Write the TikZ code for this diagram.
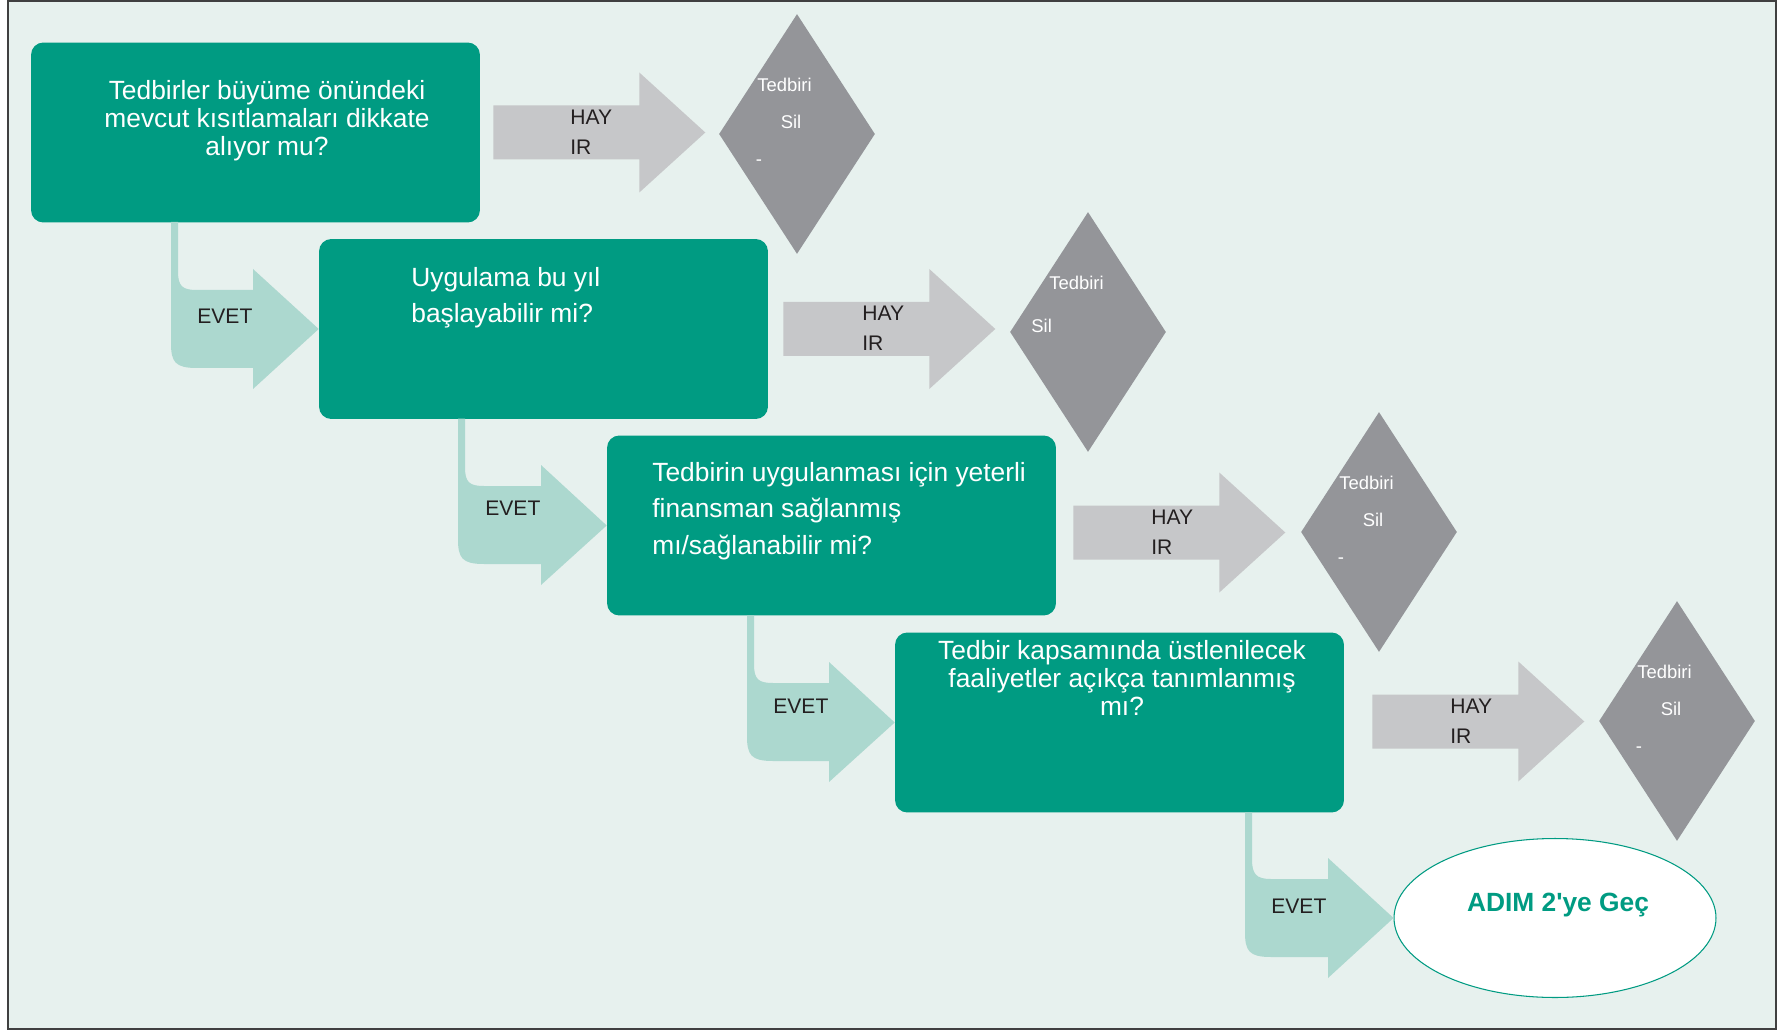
\documentclass[tikz,border=0pt]{standalone}
\usepackage{fontspec}
\setmainfont{Liberation Sans}[Ligatures=TeXOff]
\usetikzlibrary{shapes.geometric}
\definecolor{boxteal}{HTML}{009B82}
\definecolor{evetgreen}{HTML}{ACD8CF}
\definecolor{hayirgray}{HTML}{C6C7C9}
\definecolor{silgray}{HTML}{949599}
\definecolor{bgmint}{HTML}{E7F1EE}
\definecolor{darktext}{HTML}{231F20}

\begin{document}
\begin{tikzpicture}[x=0.02cm, y=-0.02cm,
  question/.style={fill=boxteal, rounded corners=7pt, minimum width=8.98cm, minimum height=3.6cm, inner sep=0pt},
  qtext/.style={text=white, inner sep=0pt},
  yesarrow/.style={fill=evetgreen},
  noarrow/.style={fill=hayirgray},
  answer/.style={text=darktext, font=\fontsize{12}{17}\selectfont, inner sep=0pt, anchor=west, align=left},
  drop/.style={diamond, fill=silgray, minimum width=3.12cm, minimum height=4.8cm, inner sep=0pt},
  droptext/.style={text=white, font=\fontsize{10.5}{12}\selectfont, inner sep=0pt}]
\useasboundingbox (0,0) rectangle (1781,1030);
\draw[fill=bgmint, draw=black!75, line width=1.1pt] (8,1) rectangle (1776,1029);

\node[question] (b1) at (255.5,132.5) {};
\node[question] (b2) at (543.5,329) {};
\node[question] (b3) at (831.5,525.5) {};
\node[question] (b4) at (1119.5,722.5) {};
\node[ellipse, draw=boxteal, fill=white, line width=0.6pt, minimum width=6.44cm, minimum height=3.18cm, inner sep=0pt] (goal) at (1555,918) {};

\node[qtext, align=center, font=\fontsize{15}{16}\selectfont] (q1) at (267,121) {Tedbirler büyüme önündeki\\mevcut kısıtlamaları dikkate\\alıyor mu?};
\node[qtext, align=left, anchor=west, font=\fontsize{15}{20.5}\selectfont] (q2) at (411,297.5) {Uygulama bu yıl\\başlayabilir mi?};
\node[qtext, align=left, anchor=west, font=\fontsize{15}{20.8}\selectfont] (q3) at (652,511) {Tedbirin uygulanması için yeterli\\finansman sağlanmış\\mı/sağlanabilir mi?};
\node[qtext, align=center, font=\fontsize{15}{16}\selectfont] (q4) at (1122,678) {Tedbir kapsamında üstlenilecek\\faaliyetler açıkça tanımlanmış\\mı?};
\node[text=boxteal, font=\fontsize{15}{18}\selectfont\bfseries, inner sep=0pt] (goaltext) at (1558,905) {ADIM 2'ye Geç};

\fill[yesarrow] (171,222) -- (178,222) -- (178,271) .. controls (178,286) and (182,290) .. (197,290) -- (253,290) -- (253,269) -- (b2.west) -- (253,389) -- (253,368) -- (197,368) .. controls (175,368) and (171,362) .. (171,343) -- cycle;
\fill[yesarrow] (458,418.5) -- (465,418.5) -- (465,467) .. controls (465,482) and (469,486) .. (484,486) -- (541,486) -- (541,465) -- (b3.west) -- (541,585) -- (541,564) -- (484,564) .. controls (462,564) and (458,558) .. (458,539) -- cycle;
\fill[yesarrow] (747,615.5) -- (754,615.5) -- (754,664) .. controls (754,679) and (758,683) .. (773,683) -- (829,683) -- (829,662) -- (b4.west) -- (829,782) -- (829,761) -- (773,761) .. controls (751,761) and (747,755) .. (747,736) -- cycle;
\fill[yesarrow] (1245,812.5) -- (1252,812.5) -- (1252,859) .. controls (1252,874) and (1256,879) .. (1271,879) -- (1328,879) -- (1328,858) -- (goal.west) -- (1328,978) -- (1328,957) -- (1271,957) .. controls (1249,957) and (1245,951) .. (1245,932) -- cycle;
\node[answer] (e1) at (197,316) {EVET};
\node[answer] (e2) at (485,508) {EVET};
\node[answer] (e3) at (773,706) {EVET};
\node[answer] (e4) at (1271,906) {EVET};

\fill[noarrow] (b1.east) ++(13,-27) -- ++(146,0) -- ++(0,-33) -- ++(66,60) -- ++(-66,60) -- ++(0,-33) -- ++(-146,0) -- cycle;
\fill[noarrow] (b2.east) ++(15,-27) -- ++(146,0) -- ++(0,-33) -- ++(66,60) -- ++(-66,60) -- ++(0,-33) -- ++(-146,0) -- cycle;
\fill[noarrow] (b3.east) ++(17,-20) -- ++(146,0) -- ++(0,-33) -- ++(66,60) -- ++(-66,60) -- ++(0,-33) -- ++(-146,0) -- cycle;
\fill[noarrow] (b4.east) ++(28,-28) -- ++(146,0) -- ++(0,-33) -- ++(66,60) -- ++(-66,60) -- ++(0,-33) -- ++(-146,0) -- cycle;
\node[answer] (h1) at (570,132) {HAY\\IR};
\node[answer] (h2) at (862,328) {HAY\\IR};
\node[answer] (h3) at (1151,532) {HAY\\IR};
\node[answer] (h4) at (1450,721) {HAY\\IR};

\node[drop] (d1) at (797,134) {};
\node[drop] (d2) at (1088,332) {};
\node[drop] (d3) at (1379,532) {};
\node[drop] (d4) at (1677,721) {};
\node[droptext, anchor=west] (d1a) at (757,85) {Tedbiri};
\node[droptext] (d1b) at (791,122) {Sil};
\node[droptext] (d1c) at (759,163) {-};
\node[droptext, anchor=west] (d2a) at (1049,283) {Tedbiri};
\node[droptext, anchor=west] (d2b) at (1031,326) {Sil};
\node[droptext, anchor=west] (d3a) at (1339,483) {Tedbiri};
\node[droptext] (d3b) at (1373,520) {Sil};
\node[droptext] (d3c) at (1341,561) {-};
\node[droptext, anchor=west] (d4a) at (1637,672) {Tedbiri};
\node[droptext] (d4b) at (1671,709) {Sil};
\node[droptext] (d4c) at (1639,750) {-};
\end{tikzpicture}
\end{document}
